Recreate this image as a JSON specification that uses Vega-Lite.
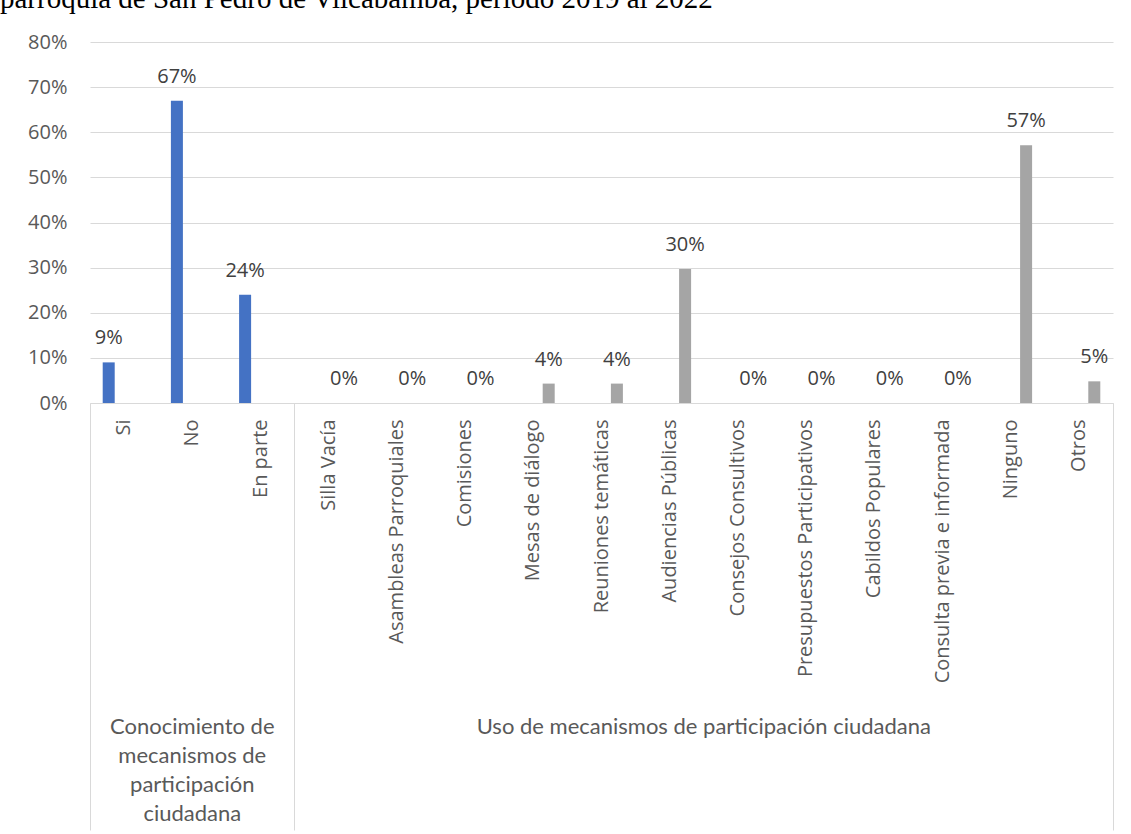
{
  "$schema": "https://vega.github.io/schema/vega-lite/v6.json",
  "width": 1023,
  "height": 361,
  "autosize": {"type": "none"},
  "padding": {"left": 90, "top": 42, "right": 18, "bottom": 431},
  "background": "white",
  "title": {
    "text": "parroquia de San Pedro de Vilcabamba, período 2019 al 2022",
    "font": "Liberation Serif",
    "fontSize": 29,
    "fontWeight": "normal",
    "color": "#000000",
    "anchor": "start",
    "frame": "group",
    "dx": -90,
    "offset": 0,
    "dy": 5,
    "baseline": "alphabetic"
  },
  "config": {
    "view": {"stroke": null},
    "text": {"font": "Open Sans"}
  },
  "data": {
    "values": [
      {"categoria": "Si", "serie": "Conocimiento", "valor": 0.09},
      {"categoria": "No", "serie": "Conocimiento", "valor": 0.67},
      {"categoria": "En parte", "serie": "Conocimiento", "valor": 0.24},
      {"categoria": "Silla Vacía", "serie": "Uso", "valor": 0},
      {"categoria": "Asambleas Parroquiales", "serie": "Uso", "valor": 0},
      {"categoria": "Comisiones", "serie": "Uso", "valor": 0},
      {"categoria": "Mesas de diálogo", "serie": "Uso", "valor": 0.043},
      {"categoria": "Reuniones temáticas", "serie": "Uso", "valor": 0.043},
      {"categoria": "Audiencias Públicas", "serie": "Uso", "valor": 0.297},
      {"categoria": "Consejos Consultivos", "serie": "Uso", "valor": 0},
      {"categoria": "Presupuestos Participativos", "serie": "Uso", "valor": 0},
      {"categoria": "Cabildos Populares", "serie": "Uso", "valor": 0},
      {"categoria": "Consulta previa e informada", "serie": "Uso", "valor": 0},
      {"categoria": "Ninguno", "serie": "Uso", "valor": 0.571},
      {"categoria": "Otros", "serie": "Uso", "valor": 0.048}
    ]
  },
  "layer": [
    {
      "mark": {"type": "bar"},
      "encoding": {
        "x": {
          "field": "categoria",
          "type": "nominal",
          "sort": null,
          "scale": {
            "domain": ["Si", "No", "En parte", "Silla Vacía", "Asambleas Parroquiales", "Comisiones", "Mesas de diálogo", "Reuniones temáticas", "Audiencias Públicas", "Consejos Consultivos", "Presupuestos Participativos", "Cabildos Populares", "Consulta previa e informada", "Ninguno", "Otros"],
            "paddingInner": 0,
            "paddingOuter": 0
          },
          "axis": {
            "title": null,
            "orient": "bottom",
            "domain": true,
            "domainColor": "#d9d9d9",
            "domainWidth": 1,
            "labelAngle": 270,
            "labelAlign": "right",
            "labelBaseline": "middle",
            "labelFont": "Open Sans",
            "labelFontSize": 20,
            "labelColor": "#595959",
            "labelLimit": 500,
            "labelOverlap": false,
            "labelPadding": -411,
            "ticks": true,
            "tickSize": 427,
            "tickColor": "#d9d9d9",
            "tickWidth": 1,
            "bandPosition": 1,
            "tickExtra": true,
            "tickOpacity": {
              "condition": {"test": "datum.value === 'En parte' || datum.value === 'Otros' || datum.extra", "value": 1},
              "value": 0
            },
            "grid": false
          }
        },
        "xOffset": {
          "field": "serie",
          "type": "nominal",
          "scale": {"domain": ["Conocimiento", "Serie2", "Uso"], "paddingInner": 0.22, "paddingOuter": 0.825}
        },
        "y": {
          "field": "valor",
          "type": "quantitative",
          "scale": {"domain": [0, 0.8], "nice": false},
          "axis": {
            "title": null,
            "values": [0, 0.1, 0.2, 0.3, 0.4, 0.5, 0.6, 0.7, 0.8],
            "format": ".0%",
            "domain": false,
            "ticks": false,
            "labelFont": "Open Sans",
            "labelFontSize": 20,
            "labelColor": "#595959",
            "labelPadding": 23,
            "grid": true,
            "gridColor": "#d9d9d9",
            "gridWidth": 1
          }
        },
        "color": {
          "field": "serie",
          "type": "nominal",
          "scale": {"domain": ["Conocimiento", "Serie2", "Uso"], "range": ["#4472C4", "#ED7D31", "#A5A5A5"]},
          "legend": null
        }
      }
    },
    {
      "mark": {"type": "text", "baseline": "alphabetic", "dy": -18, "fontSize": 20, "color": "#404040", "font": "Open Sans"},
      "encoding": {
        "x": {"field": "categoria", "type": "nominal", "sort": null},
        "xOffset": {"field": "serie", "type": "nominal"},
        "y": {"field": "valor", "type": "quantitative"},
        "text": {"field": "valor", "type": "quantitative", "format": ".0%"}
      }
    },
    {
      "data": {"values": [{"grupo": "Conocimiento de mecanismos de participación ciudadana"}]},
      "mark": {
        "type": "text",
        "text": ["Conocimiento de", "mecanismos de", "participación", "ciudadana"],
        "font": "Lato",
        "fontSize": 22,
        "lineHeight": 29,
        "color": "#595959",
        "baseline": "middle",
        "align": "center",
        "dy": 324
      },
      "encoding": {
        "x": {"datum": "No", "type": "nominal"},
        "y": {"datum": 0, "type": "quantitative"}
      }
    },
    {
      "data": {"values": [{"grupo": "Uso de mecanismos de participación ciudadana"}]},
      "mark": {
        "type": "text",
        "font": "Lato",
        "fontSize": 22,
        "color": "#595959",
        "baseline": "middle",
        "align": "center",
        "dy": 324
      },
      "encoding": {
        "x": {"datum": "Consejos Consultivos", "type": "nominal", "bandPosition": 0},
        "y": {"datum": 0, "type": "quantitative"},
        "text": {"field": "grupo", "type": "nominal"}
      }
    }
  ]
}
